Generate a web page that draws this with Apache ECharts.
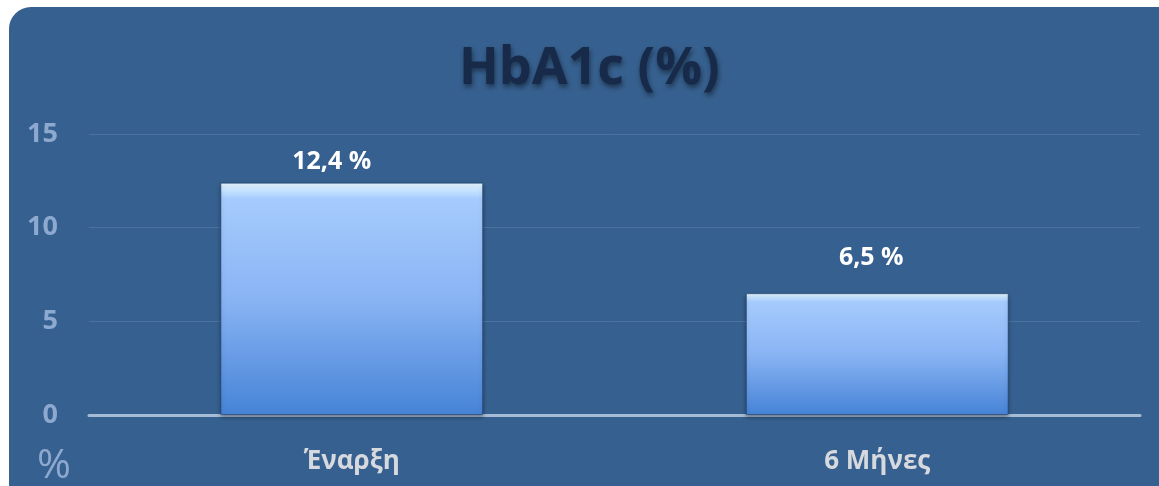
<!DOCTYPE html>
<html>
<head>
<meta charset="utf-8">
<script src="https://cdn.jsdelivr.net/npm/echarts@6/dist/echarts.min.js"></script>
<style>
  html, body { margin: 0; padding: 0; background: #ffffff; }
  #chart { width: 1159px; height: 486px; }
</style>
</head>
<body>
<div id="chart"></div>
<script>
// data
const categories = ["Έναρξη", "6 Μήνες"];
const hba1cValues = [12.4, 6.5];
const yTicks = [0, 5, 10, 15];
// the value labels were nudged by hand in the original
const labelOffsets = [[-20, 0], [-6, -15]];

const panelColor = "#36608f";

const chart = echarts.init(document.getElementById("chart"));

chart.setOption({
    backgroundColor: "#ffffff",
    animation: false,
    title: {
        text: "HbA1c (%)",
        left: 454,
        top: 38,
        textStyle: {
            fontFamily: "Open Sans",
            fontWeight: "bold",
            fontSize: 52,
            color: "#172a4a",
            textShadowColor: "rgba(0,0,0,0.45)",
            textShadowBlur: 5,
            textShadowOffsetX: 1,
            textShadowOffsetY: 3,
        },
    },
    graphic: [
        {
            type: "rect",
            z: -10,
            shape: { x: 9, y: 7, width: 1200, height: 540, r: 22 },
            style: { fill: panelColor },
        },
        {
            type: "text",
            left: 37,
            top: 446,
            style: {
                text: "%",
                fontFamily: "Open Sans",
                fontSize: 41,
                fill: "#8ea9cf",
            },
        },
    ],
    grid: {
        left: 89,
        right: 19,
        top: 134,
        bottom: 71,
    },
    xAxis: {
        type: "category",
        data: categories,
        axisTick: { show: false },
        axisLine: { lineStyle: { color: "#a6bcd6", width: 3 } },
        axisLabel: {
            margin: 34,
            fontFamily: "Open Sans",
            fontWeight: "bold",
            fontSize: 26,
            color: "#d6d9de",
        },
    },
    yAxis: {
        type: "value",
        min: yTicks[0],
        max: yTicks[yTicks.length - 1],
        interval: yTicks[1] - yTicks[0],
        axisLine: { show: false },
        axisTick: { show: false },
        splitLine: { lineStyle: { color: "#4c72a0", width: 1 } },
        axisLabel: {
            margin: 31,
            fontFamily: "Open Sans",
            fontWeight: "bold",
            fontSize: 27,
            color: "#8ea9cf",
        },
    },
    series: [
        {
            type: "bar",
            data: hba1cValues.map((v, i) => ({
                value: v,
                label: { offset: labelOffsets[i] },
            })),
            barWidth: "50%",
            itemStyle: {
                color: new echarts.graphic.LinearGradient(0, 0, 0, 1, [
                    { offset: 0, color: "#eaf8ff" },
                    { offset: 0.035, color: "#c4e2ff" },
                    { offset: 0.07, color: "#a6cbfd" },
                    { offset: 0.5, color: "#89b4f4" },
                    { offset: 1, color: "#4683d6" },
                ]),
                borderColor: "rgba(30,60,110,0.55)",
                borderWidth: 1,
                shadowColor: "rgba(0,0,0,0.35)",
                shadowBlur: 4,
                shadowOffsetY: 2,
            },
            label: {
                show: true,
                position: "top",
                distance: 8,
                fontFamily: "Open Sans",
                fontWeight: "bold",
                fontSize: 25,
                color: "#ffffff",
                formatter: (p) => String(p.value).replace(".", ",") + " %",
            },
        },
    ],
});
</script>
</body>
</html>
